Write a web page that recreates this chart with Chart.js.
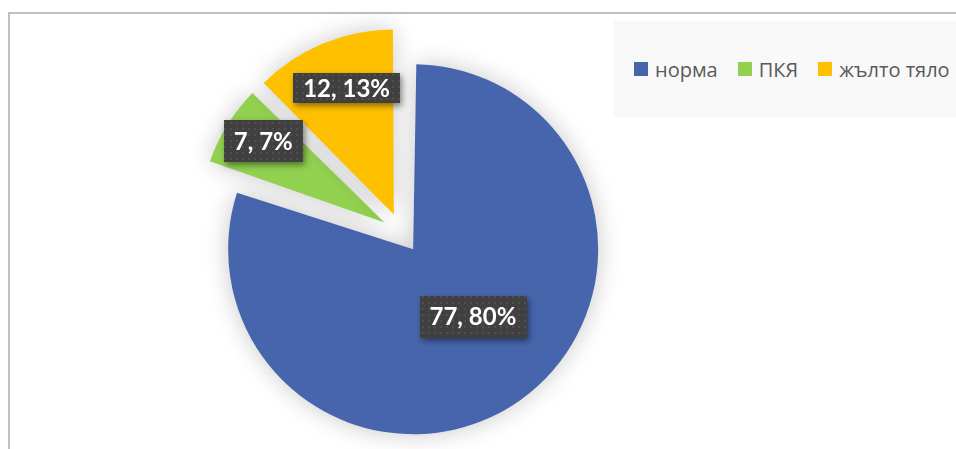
<!DOCTYPE html>
<html lang="bg">
<head>
<meta charset="utf-8">
<title>норма / ПКЯ / жълто тяло</title>
<script src="https://cdn.jsdelivr.net/npm/chart.js@4"></script>
<style>
    html, body {
        margin: 0;
        padding: 0;
        width: 956px;
        height: 449px;
        overflow: hidden;
        background: #ffffff;
    }
    #frame {
        position: absolute;
        left: 8px;
        top: 12px;
        width: 990px;
        height: 480px;
        border-left: 2px solid #bfbfbf;
        border-top: 2px solid #bfbfbf;
    }
    #pie {
        position: absolute;
        left: 0;
        top: 0;
    }
    #legend {
        position: absolute;
        left: 614px;
        top: 21px;
        width: 342px;
        height: 96px;
        background: #f8f8f8;
        display: flex;
        align-items: center;
        box-sizing: border-box;
        padding-left: 20px;
        font-family: "Open Sans", "Noto Sans", sans-serif;
        font-size: 20px;
        color: #595959;
        white-space: nowrap;
    }
    #legend .item {
        display: flex;
        align-items: center;
        margin-right: 20px;
    }
    #legend .box {
        width: 14px;
        height: 14px;
        margin-right: 7px;
    }
</style>
</head>
<body>
<div id="frame"></div>
<canvas id="pie" width="956" height="449"></canvas>
<div id="legend"></div>

<script>
const categories = ["норма", "ПКЯ", "жълто тяло"];
const counts = [77, 7, 12];
const sliceColors = ["#4765ac", "#92d050", "#ffc000"];

// every slice is pulled out of the centre by explode / 4 px
const explode = 80;
const pieRadius = 185;

// where each value label sits: distance from the slice tip and a small turn off the bisector (degrees)
const labelPlace = [
    { dist: 90, turn: -6, height: 42 },
    { dist: 146, turn: 2, height: 42 },
    { dist: 135, turn: 2, height: 30 },
];

const total = counts.reduce((a, b) => a + b, 0);
const labelTexts = counts.map((v) => v + ", " + Math.round((v / total) * 100) + "%");

// legend
const legendEl = document.querySelector("#legend");
categories.forEach((name, i) => {
    const item = document.createElement("div");
    item.className = "item";
    const box = document.createElement("span");
    box.className = "box";
    box.style.background = sliceColors[i];
    const txt = document.createElement("span");
    txt.textContent = name;
    item.appendChild(box);
    item.appendChild(txt);
    legendEl.appendChild(item);
});

// Chart.js grows the radius of an offset arc, take that back so all slices keep the same size
const explodeFix = {
    id: "explodeFix",
    afterDatasetUpdate(chart, args) {
        args.meta.data.forEach((arc) => {
            const fix = 1 - Math.sin(Math.min(Math.PI, arc.circumference));
            arc.outerRadius = pieRadius - (explode / 4) * fix;
        });
    },
};

const sliceShadow = {
    id: "sliceShadow",
    beforeDatasetsDraw(chart) {
        const ctx = chart.ctx;
        ctx.save();
        ctx.shadowColor = "rgba(0, 0, 0, 0.22)";
        ctx.shadowBlur = 24;
    },
    afterDatasetsDraw(chart) {
        chart.ctx.restore();
    },
};

function dotPattern(ctx) {
    const tile = document.createElement("canvas");
    tile.width = 6;
    tile.height = 6;
    const t = tile.getContext("2d");
    t.fillStyle = "#404040";
    t.fillRect(0, 0, 6, 6);
    t.fillStyle = "#4f4f4f";
    t.fillRect(2, 2, 2, 2);
    return ctx.createPattern(tile, "repeat");
}

const valueLabels = {
    id: "valueLabels",
    afterDatasetsDraw(chart) {
        const ctx = chart.ctx;
        const meta = chart.getDatasetMeta(0);
        const fill = dotPattern(ctx);
        ctx.save();
        ctx.font = "bold 24px Lato, 'Open Sans', sans-serif";
        ctx.textAlign = "center";
        ctx.textBaseline = "middle";
        meta.data.forEach((arc, i) => {
            const mid = (arc.startAngle + arc.endAngle) / 2;
            const tipX = arc.x + Math.cos(mid) * (explode / 4);
            const tipY = arc.y + Math.sin(mid) * (explode / 4);
            const place = labelPlace[i];
            const a = mid + (place.turn * Math.PI) / 180;
            const cx = tipX + Math.cos(a) * place.dist;
            const cy = tipY + Math.sin(a) * place.dist;

            const text = labelTexts[i];
            const w = ctx.measureText(text).width + 20;
            const h = place.height;

            ctx.save();
            ctx.shadowColor = "rgba(0, 0, 0, 0.45)";
            ctx.shadowBlur = 6;
            ctx.shadowOffsetX = 2;
            ctx.shadowOffsetY = 3;
            ctx.fillStyle = fill;
            ctx.fillRect(Math.round(cx - w / 2), Math.round(cy - h / 2), Math.round(w), h);
            ctx.restore();

            ctx.fillStyle = "#ffffff";
            ctx.fillText(text, cx, cy + 1);
        });
        ctx.restore();
    },
};

const pieCtx = document.querySelector("#pie").getContext("2d");

const pieChart = new Chart(pieCtx, {
    type: "pie",
    data: {
        labels: categories,
        datasets: [
            {
                data: counts,
                backgroundColor: sliceColors,
                borderWidth: 0,
                offset: explode,
                hoverOffset: 0,
            },
        ],
    },
    options: {
        responsive: false,
        animation: false,
        events: [],
        radius: pieRadius,
        layout: {
            padding: { left: 0, right: 153, top: 17, bottom: 0 },
        },
        plugins: {
            legend: { display: false },
            tooltip: { enabled: false },
        },
    },
    plugins: [explodeFix, sliceShadow, valueLabels],
});
</script>
</body>
</html>
